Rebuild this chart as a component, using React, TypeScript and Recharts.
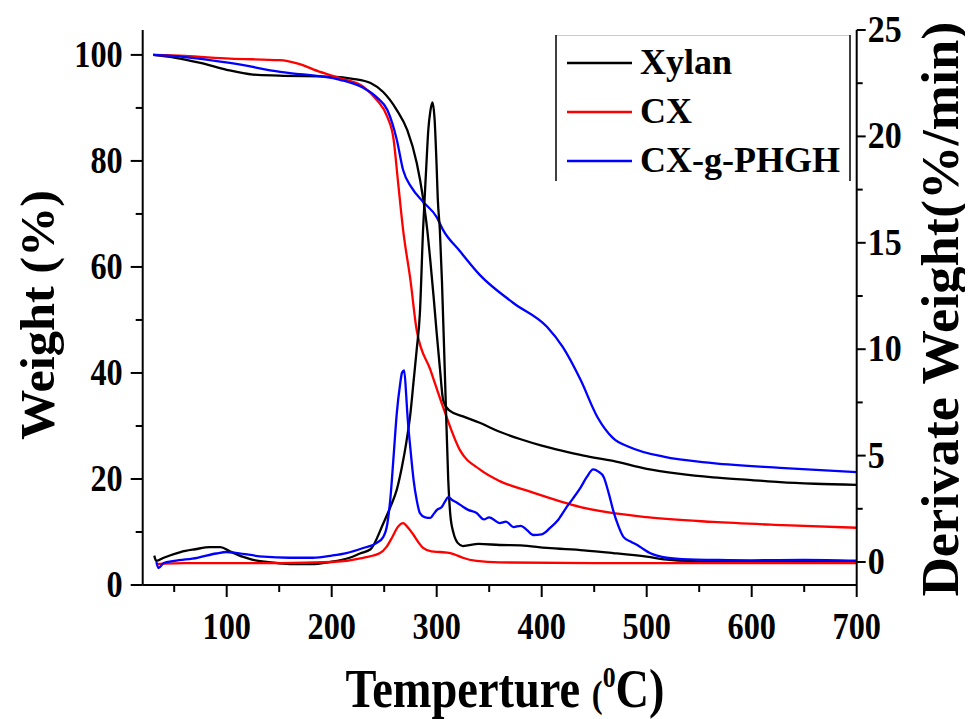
import React from 'react';
import { LineChart, Line, XAxis, YAxis, Legend, Label } from 'recharts';

const FONT = '"Liberation Serif", "Times New Roman", Times, serif';

// ---- Weight (TGA) curves ----
const xylanWeightT = [30, 50, 75, 100, 125, 150, 200, 220, 237, 249, 262, 272, 281, 287, 291, 294, 297, 300, 303, 306, 309, 313, 325, 341, 360, 380, 400, 420, 440, 468, 500, 530, 563, 600, 627, 660, 700];
const xylanWeight = [100, 99.5, 98.5, 97.2, 96.3, 96.1, 95.9, 95.5, 94.7, 93, 89.6, 85.8, 79.6, 73, 67, 61, 54.5, 47.5, 41, 35, 33.6, 32.8, 31.8, 30.6, 28.9, 27.5, 26.3, 25.3, 24.4, 23.4, 21.9, 21, 20.3, 19.8, 19.4, 19.1, 18.9];

const cxWeightT = [30, 60, 103, 151, 167, 189, 208, 230, 243, 253, 259, 263, 268, 275, 281, 294, 306, 322, 341, 360, 389, 437, 500, 563, 630, 700];
const cxWeight = [100, 99.8, 99.3, 99, 98.4, 96.8, 95.6, 94, 91.5, 88.3, 84, 76.4, 67, 57.5, 48, 40.6, 33.6, 25.5, 21.8, 19.6, 17.6, 14.7, 12.8, 11.9, 11.3, 10.8];

const phWeightT = [30, 60, 103, 151, 208, 230, 243, 253, 262, 268, 276, 287, 300, 306, 322, 341, 373, 405, 420, 437, 453, 468, 484, 516, 563, 627, 700];
const phWeight = [100, 99.6, 98.5, 96.8, 95.3, 93.8, 92, 89.6, 84, 78.3, 75, 72.3, 69.4, 67, 63, 58.5, 53.2, 48.7, 44.9, 38.7, 31.7, 27.7, 26, 24.2, 23, 22.1, 21.3];

// ---- Derivative (DTG) curves ----
const xylanDerivT = [31, 33, 40, 56, 70, 84, 94, 103, 115, 125, 140, 160, 180, 198, 217, 227, 237, 249, 256, 262, 267, 271, 275, 278, 281, 284, 287, 290, 292, 294, 296, 298, 300, 301, 303, 305, 308, 311, 313, 316, 320, 325, 340, 360, 380, 405, 440, 468, 500, 522, 560, 620, 700];
const xylanDeriv = [0.3, 0.05, 0.2, 0.47, 0.6, 0.7, 0.7, 0.5, 0.25, 0.1, 0, -0.1, -0.1, 0, 0.2, 0.4, 0.6, 1.8, 2.6, 3.4, 4.5, 5.6, 7, 8.5, 10, 11.7, 15.6, 18.5, 20.3, 21.2, 21.6, 20.8, 18.5, 17.1, 15.6, 13.2, 8.5, 3.85, 2.2, 1.36, 0.9, 0.75, 0.85, 0.8, 0.78, 0.66, 0.55, 0.42, 0.25, 0.1, 0.02, 0, 0];

const cxDerivT = [33, 40, 60, 100, 150, 200, 230, 246, 252, 258, 263, 268, 273, 278, 283, 287, 295, 303, 313, 320, 325, 338, 360, 450, 550, 700];
const cxDeriv = [-0.1, -0.08, -0.05, -0.05, -0.05, 0, 0.2, 0.42, 0.7, 1.2, 1.65, 1.83, 1.6, 1.27, 0.9, 0.66, 0.5, 0.47, 0.42, 0.3, 0.2, 0.05, -0.02, -0.05, -0.05, -0.05];

const phDerivT = [33, 35, 40, 50, 72, 90, 100, 110, 135, 160, 182, 200, 214, 230, 243, 249, 253, 256, 259, 262, 265, 267, 269, 271, 272, 275, 278, 281, 284, 289, 294, 297, 300, 305, 308, 311, 315, 319, 325, 330, 338, 345, 350, 360, 366, 373, 380, 386, 392, 400, 408, 416, 424, 430, 437, 443, 449, 454, 459, 464, 468, 473, 478, 485, 491, 497, 503, 510, 519, 540, 563, 600, 650, 700];
const phDeriv = [0, -0.28, -0.05, 0.05, 0.2, 0.4, 0.47, 0.42, 0.25, 0.2, 0.2, 0.3, 0.42, 0.66, 0.9, 1.17, 1.8, 3.05, 5, 7, 8.3, 8.9, 9.0, 7.8, 7, 5.3, 3.85, 2.9, 2.3, 2.1, 2.07, 2.25, 2.44, 2.6, 2.85, 3.05, 2.9, 2.8, 2.6, 2.45, 2.3, 2.0, 2.1, 1.83, 1.9, 1.64, 1.7, 1.5, 1.27, 1.3, 1.6, 2.0, 2.6, 3.0, 3.5, 4.0, 4.35, 4.25, 4.0, 3.2, 2.44, 1.7, 1.17, 0.95, 0.8, 0.6, 0.42, 0.3, 0.2, 0.12, 0.1, 0.08, 0.1, 0.06];

// ---- Ticks ----
const tempTicks = [50, 100, 150, 200, 250, 300, 350, 400, 450, 500, 550, 600, 650, 700];
const weightTicks = [0, 10, 20, 30, 40, 50, 60, 70, 80, 90, 100];
const derivTicks = [0, 2.5, 5, 7.5, 10, 12.5, 15, 17.5, 20, 22.5, 25];

const seriesNames = ['Xylan', 'CX', 'CX-g-PHGH'];
const seriesColors = ['#000000', '#ff0000', '#0000ff'];

const zip = (t: number[], v: number[]) => t.map((x, i) => ({ t: x, v: v[i] }));

const BottomTick = (props: any) => {
  const { x, y, payload } = props;
  const v = payload.value;
  const major = v % 100 === 0;
  return (
    <g>
      <line x1={x} x2={x} y1={y} y2={y + (major ? 12 : 7)} stroke="#000" strokeWidth={2} />
      {major && (
        <text transform={`translate(${x},${y + 54}) scale(0.95,1.12)`} textAnchor="middle" fontFamily={FONT} fontWeight="bold" fontSize={34} fill="#000">
          {v}
        </text>
      )}
    </g>
  );
};

const LeftTick = (props: any) => {
  const { x, y, payload } = props;
  const v = payload.value;
  const major = v % 20 === 0;
  return (
    <g>
      <line x1={x} x2={x - (major ? 12 : 7)} y1={y} y2={y} stroke="#000" strokeWidth={2} />
      {major && (
        <text transform={`translate(${x - 20},${y + 12}) scale(0.95,1.12)`} textAnchor="end" fontFamily={FONT} fontWeight="bold" fontSize={34} fill="#000">
          {v}
        </text>
      )}
    </g>
  );
};

const RightTick = (props: any) => {
  const { x, y, payload } = props;
  const v = payload.value;
  const major = v % 5 === 0;
  return (
    <g>
      <line x1={x} x2={x + (major ? 9 : 6)} y1={y} y2={y} stroke="#000" strokeWidth={2} />
      {major && (
        <text transform={`translate(${x + 11},${y + 12}) scale(1,1.12)`} textAnchor="start" fontFamily={FONT} fontWeight="bold" fontSize={34} fill="#000">
          {v}
        </text>
      )}
    </g>
  );
};

const Titles = () => (
  <g fontFamily={FONT} fontWeight="bold" fill="#000">
    <text transform="translate(497,699) scale(0.86,1)" textAnchor="middle" fontSize={54}>
      Temperture <tspan fontSize={38}>(</tspan>
      <tspan fontSize={30} dy={-20}>0</tspan>
      <tspan dy={20}>C)</tspan>
    </text>
    <text transform="translate(46,307) rotate(-90)" textAnchor="middle" fontSize={48} textLength={250} lengthAdjust="spacingAndGlyphs">
      Weight (%)
    </text>
    <text transform="translate(950,301) rotate(-90)" textAnchor="middle" fontSize={52} textLength={575} lengthAdjust="spacingAndGlyphs">
      Derivate Weight(%/min)
    </text>
  </g>
);

const LegendBox = () => (
  <svg width={297} height={146} style={{ display: 'block' }}>
    <line x1={1} x2={295} y1={0.5} y2={0.5} stroke="#cccccc" strokeWidth={1} />
    <line x1={1} x2={1} y1={0} y2={146} stroke="#000" strokeWidth={1.5} />
    <line x1={295} x2={295} y1={0} y2={146} stroke="#000" strokeWidth={1.5} />
    {seriesNames.map((n, i) => (
      <g key={n}>
        <line x1={12} x2={77} y1={28 + i * 49} y2={28 + i * 49} stroke={seriesColors[i]} strokeWidth={2.5} />
        <text x={85} y={39 + i * 49} fontFamily={FONT} fontWeight="bold" fontSize={36} fill="#000">
          {n}
        </text>
      </g>
    ))}
  </svg>
);

export default function App() {
  const weights = [zip(xylanWeightT, xylanWeight), zip(cxWeightT, cxWeight), zip(phWeightT, phWeight)];
  const derivs = [zip(xylanDerivT, xylanDeriv), zip(cxDerivT, cxDeriv), zip(phDerivT, phDeriv)];
  return (
    <LineChart width={965} height={711} margin={{ top: 22, right: 0, bottom: 0, left: 0 }}>
      <XAxis
        xAxisId="b"
        dataKey="t"
        type="number"
        domain={[20, 700]}
        allowDataOverflow
        ticks={tempTicks}
        interval={0}
        tickSize={0}
        tickMargin={0}
        tickLine={false}
        axisLine={{ stroke: '#000', strokeWidth: 2 }}
        height={134}
        tick={<BottomTick />}
      >
        <Label content={<Titles />} />
      </XAxis>
      <XAxis
        xAxisId="top"
        orientation="top"
        dataKey="t"
        type="number"
        domain={[20, 700]}
        allowDataOverflow
        height={0}
        tick={false}
        tickLine={false}
        axisLine={{ stroke: '#555', strokeWidth: 2 }}
      />
      <YAxis
        yAxisId="w"
        orientation="left"
        type="number"
        domain={[0, 104.7]}
        allowDataOverflow
        ticks={weightTicks}
        interval={0}
        tickSize={0}
        tickMargin={0}
        tickLine={false}
        width={134.7}
        axisLine={{ stroke: '#000', strokeWidth: 2 }}
        tick={<LeftTick />}
      />
      <YAxis
        yAxisId="d"
        orientation="right"
        type="number"
        domain={[-1.08, 25]}
        allowDataOverflow
        ticks={derivTicks}
        interval={0}
        tickSize={0}
        tickMargin={0}
        tickLine={false}
        width={116.3}
        axisLine={{ stroke: '#000', strokeWidth: 2 }}
        tick={<RightTick />}
      />
      <Legend
        layout="vertical"
        align="center"
        verticalAlign="middle"
        wrapperStyle={{ position: 'absolute', left: 547, top: 27, width: 297, height: 146 }}
        content={<LegendBox />}
      />
      {weights.map((d, i) => (
        <Line
          key={'w' + i}
          xAxisId="b"
          yAxisId="w"
          data={d}
          dataKey="v"
          name={seriesNames[i]}
          type="monotone"
          stroke={seriesColors[i]}
          strokeWidth={2.3}
          dot={false}
          isAnimationActive={false}
        />
      ))}
      {derivs.map((d, i) => (
        <Line
          key={'d' + i}
          xAxisId="b"
          yAxisId="d"
          data={d}
          dataKey="v"
          name={seriesNames[i] + ' DTG'}
          type="monotone"
          stroke={seriesColors[i]}
          strokeWidth={2.3}
          dot={false}
          isAnimationActive={false}
        />
      ))}
    </LineChart>
  );
}
